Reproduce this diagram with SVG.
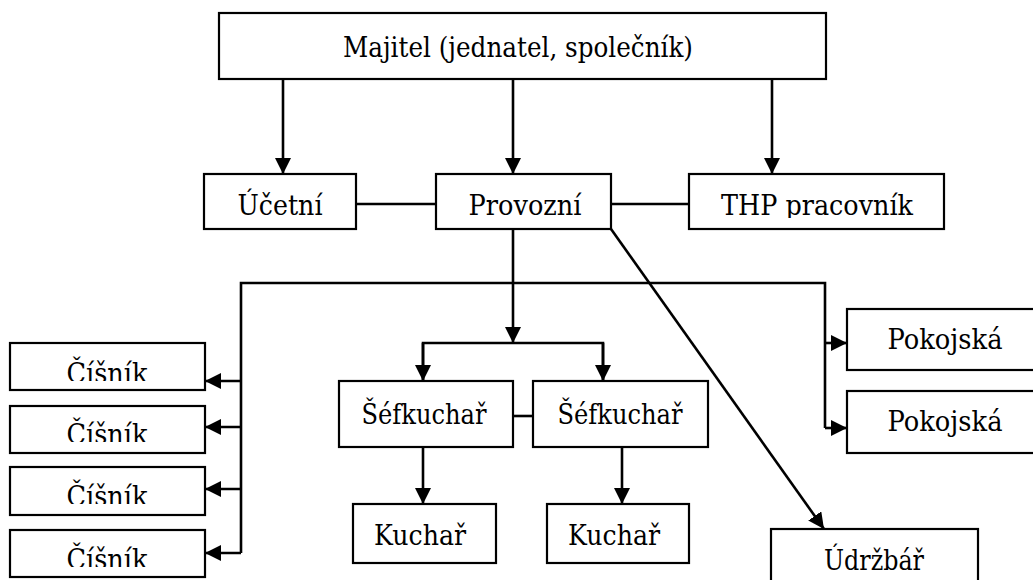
<svg xmlns="http://www.w3.org/2000/svg" width="1033" height="580" viewBox="0 0 1033 580">
<style>
.box{fill:#fff;stroke:#000;stroke-width:2.2}
.t{font-family:"DejaVu Serif",serif;font-size:28.5px;fill:#000;text-anchor:middle}
.ln{fill:none;stroke:#000;stroke-width:2.6}
</style>
<defs>
<marker id="ah" markerUnits="userSpaceOnUse" markerWidth="18" markerHeight="18" refX="16" refY="8" orient="auto">
<path d="M0,0 L16,8 L0,16 z" fill="#000"/>
</marker>
<clipPath id="c1"><rect x="10" y="343" width="195" height="38"/></clipPath>
<clipPath id="c2"><rect x="10" y="406" width="195" height="36"/></clipPath>
<clipPath id="c3"><rect x="10" y="467" width="195" height="37"/></clipPath>
<clipPath id="c4"><rect x="10" y="530" width="195" height="37"/></clipPath>
<clipPath id="cthp"><rect x="689" y="174" width="255" height="44"/></clipPath>
</defs>
<g id="connectors">
<line class="ln" x1="283" y1="79" x2="283" y2="174" marker-end="url(#ah)"/>
<line class="ln" x1="513" y1="79" x2="513" y2="174" marker-end="url(#ah)"/>
<line class="ln" x1="772" y1="79" x2="772" y2="174" marker-end="url(#ah)"/>
<line class="ln" x1="356" y1="204" x2="436" y2="204"/>
<line class="ln" x1="611" y1="204" x2="689" y2="204"/>
<line class="ln" x1="513" y1="229" x2="513" y2="343" marker-end="url(#ah)"/>
<polyline class="ln" points="241,553 241,283 825,283 825,428"/>
<line class="ln" x1="241" y1="381" x2="205" y2="381" marker-end="url(#ah)"/>
<line class="ln" x1="241" y1="427" x2="205" y2="427" marker-end="url(#ah)"/>
<line class="ln" x1="241" y1="489" x2="205" y2="489" marker-end="url(#ah)"/>
<line class="ln" x1="241" y1="553" x2="205" y2="553" marker-end="url(#ah)"/>
<line class="ln" x1="825" y1="343" x2="847" y2="343" marker-end="url(#ah)"/>
<line class="ln" x1="825" y1="428" x2="847" y2="428" marker-end="url(#ah)"/>
<polyline class="ln" points="423,381 423,343 603,343 603,381"/>
<line class="ln" x1="423" y1="343" x2="423" y2="381" marker-end="url(#ah)"/>
<line class="ln" x1="603" y1="343" x2="603" y2="381" marker-end="url(#ah)"/>
<line class="ln" x1="513" y1="416" x2="533" y2="416"/>
<line class="ln" x1="423" y1="447" x2="423" y2="504" marker-end="url(#ah)"/>
<line class="ln" x1="622" y1="447" x2="622" y2="504" marker-end="url(#ah)"/>
<line class="ln" x1="611" y1="229" x2="824" y2="529" marker-end="url(#ah)"/>
</g>
<g id="majitel"><rect class="box" x="219" y="13" width="607" height="66"/><text class="t" x="518" y="57" textLength="350" lengthAdjust="spacingAndGlyphs">Majitel (jednatel, společník)</text></g>
<g id="ucetni"><rect class="box" x="204" y="174" width="152" height="55"/><text class="t" x="280" y="215" textLength="85" lengthAdjust="spacingAndGlyphs">Účetní</text></g>
<g id="provozni"><rect class="box" x="436" y="174" width="175" height="55"/><text class="t" x="525" y="215" textLength="113" lengthAdjust="spacingAndGlyphs">Provozní</text></g>
<g id="thp"><rect class="box" x="689" y="174" width="255" height="55"/><text class="t" x="817" y="215" clip-path="url(#cthp)" textLength="192" lengthAdjust="spacingAndGlyphs">THP pracovník</text></g>
<g id="cisnik1"><rect class="box" x="10" y="343" width="195" height="47"/><text class="t" x="107" y="383" clip-path="url(#c1)" textLength="81" lengthAdjust="spacingAndGlyphs">Číšník</text></g>
<g id="cisnik2"><rect class="box" x="10" y="406" width="195" height="47"/><text class="t" x="107" y="444" clip-path="url(#c2)" textLength="81" lengthAdjust="spacingAndGlyphs">Číšník</text></g>
<g id="cisnik3"><rect class="box" x="10" y="467" width="195" height="48"/><text class="t" x="107" y="506" clip-path="url(#c3)" textLength="81" lengthAdjust="spacingAndGlyphs">Číšník</text></g>
<g id="cisnik4"><rect class="box" x="10" y="530" width="195" height="47"/><text class="t" x="107" y="569" clip-path="url(#c4)" textLength="81" lengthAdjust="spacingAndGlyphs">Číšník</text></g>
<g id="sefkuchar1"><rect class="box" x="339" y="381" width="174" height="66"/><text class="t" x="424" y="424" textLength="125" lengthAdjust="spacingAndGlyphs">Šéfkuchař</text></g>
<g id="sefkuchar2"><rect class="box" x="533" y="381" width="175" height="66"/><text class="t" x="620" y="424" textLength="125" lengthAdjust="spacingAndGlyphs">Šéfkuchař</text></g>
<g id="kuchar1"><rect class="box" x="353" y="504" width="143" height="59"/><text class="t" x="420" y="545" textLength="92" lengthAdjust="spacingAndGlyphs">Kuchař</text></g>
<g id="kuchar2"><rect class="box" x="547" y="504" width="142" height="59"/><text class="t" x="614" y="545" textLength="92" lengthAdjust="spacingAndGlyphs">Kuchař</text></g>
<g id="pokojska1"><rect class="box" x="847" y="309" width="200" height="61"/><text class="t" x="945" y="349" textLength="115" lengthAdjust="spacingAndGlyphs">Pokojská</text></g>
<g id="pokojska2"><rect class="box" x="847" y="391" width="200" height="62"/><text class="t" x="945" y="431" textLength="115" lengthAdjust="spacingAndGlyphs">Pokojská</text></g>
<g id="udrzbar"><rect class="box" x="771" y="529" width="207" height="60"/><text class="t" x="874" y="570" textLength="100" lengthAdjust="spacingAndGlyphs">Údržbář</text></g>
</svg>
